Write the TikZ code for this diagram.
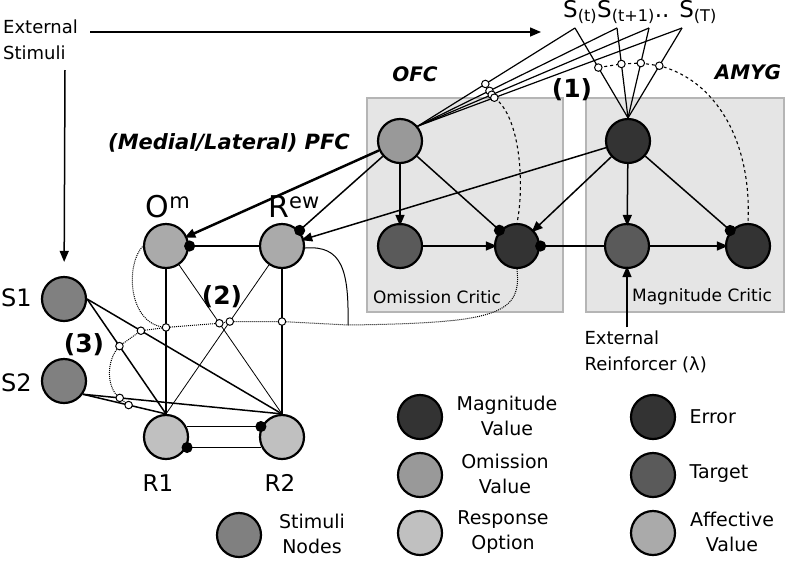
\documentclass[tikz,border=0pt]{standalone}
\usepackage{fontspec}
\setmainfont{DejaVu Sans}
\usetikzlibrary{arrows.meta,calc}
\definecolor{magval}{HTML}{333333}
\definecolor{tgt}{HTML}{5A5A5A}
\definecolor{omval}{HTML}{999999}
\definecolor{affval}{HTML}{AAAAAA}
\definecolor{resp}{HTML}{C0C0C0}
\definecolor{stim}{HTML}{808080}
\definecolor{boxfill}{HTML}{E5E5E5}
\definecolor{boxline}{HTML}{B5B5B5}
\newcommand{\fs}[2]{\fontsize{#1}{#2}\selectfont}
\begin{document}
\begin{tikzpicture}[x=1pt,y=-1pt,>={Triangle[length=11pt,width=9pt]},
  unit/.style={circle,draw,line width=2.2pt,minimum size=44pt,inner sep=0pt},
  syn/.style={circle,draw,fill=white,line width=1pt,minimum size=7.5pt,inner sep=0pt},
  lnk/.style={line width=1.5pt},
  exc/.style={->,lnk,shorten >=-3pt},
  inh/.style={-{Circle[length=11pt]},lnk,shorten >=-5pt},
  modln/.style={dashed,line width=1.1pt},
  dotln/.style={densely dotted,line width=1pt},
  lbl/.style={font=\fs{19}{25},align=center},
  tag/.style={font=\bfseries\itshape\fs{20}{24}},
  num/.style={font=\bfseries\fs{25}{28}}]
\useasboundingbox (0,0) rectangle (786,560);
% critic boxes
\draw[fill=boxfill,draw=boxline,line width=1.5pt] (367,98) rectangle (563,312);
\draw[fill=boxfill,draw=boxline,line width=1.5pt] (586,98) rectangle (784,312);
\node[font=\fs{17}{20}] (omcrit) at (437,297) {Omission Critic};
\node[font=\fs{17}{20}] (mgcrit) at (702,297) {Magnitude Critic};
\node[tag] (ofctxt) at (415,74) {OFC};
\node[tag] (amygtxt) at (748,72) {AMYG};
\node[tag,font=\bfseries\itshape\fs{21}{24}] (pfctxt) at (229,143) {(Medial/Lateral) PFC};
\node[num] (n1) at (572,90) {(1)};
\node[num] (n2) at (222,297) {(2)};
\node[num] (n3) at (84,345) {(3)};
% units
\node[unit,fill=omval] (ofc) at (400,141) {};
\node[unit,fill=magval] (amyg) at (628,141) {};
\node[unit,fill=tgt] (omt) at (400,246) {};
\node[unit,fill=magval] (ome) at (517,246) {};
\node[unit,fill=tgt] (mgt) at (627,246) {};
\node[unit,fill=magval] (mge) at (748,246) {};
\node[unit,fill=affval] (om) at (166,246) {};
\node[unit,fill=affval] (rew) at (282,246) {};
\node[unit,fill=stim] (s1) at (64,299) {};
\node[unit,fill=stim] (s2) at (64,381) {};
\node[unit,fill=resp] (r1) at (166,437) {};
\node[unit,fill=resp] (r2) at (282,437) {};
\node[font=\fs{30}{32}] (omlbl) at (168,207) {O\textsuperscript{m}};
\node[font=\fs{30}{32}] (rewlbl) at (294,207) {R\textsuperscript{ew}};
\node[font=\fs{24}{28},inner xsep=0pt,anchor=west] (s1lbl) at (1,298) {S1};
\node[font=\fs{24}{28},inner xsep=0pt,anchor=west] (s2lbl) at (1,383) {S2};
\node[font=\fs{23}{28}] (r1lbl) at (158,483) {R1};
\node[font=\fs{23}{28}] (r2lbl) at (280,483) {R2};
% inputs
\node[font=\fs{18}{26},align=left,inner xsep=0pt,anchor=west] (ext) at (3,40) {External\\Stimuli};
\coordinate (extR) at (90,32);
\coordinate (extE) at (541,32);
\coordinate (extD) at (65,70);
\draw[->,lnk] (extR) -- (extE);
\draw[->,lnk,shorten >=14pt] (extD) -- (s1);
\node[font=\fs{23}{26}] (seq) at (640,12) {S\textsubscript{(t)}S\textsubscript{(t+1)}.. S\textsubscript{(T)}};
\coordinate (p1) at (575,28);
\coordinate (p2) at (617,28);
\coordinate (p3) at (649,28);
\coordinate (p4) at (682,28);
\foreach \p/\a/\b in {1/0.57/0.44,2/0.64/0.40,3/0.68/0.39,4/0.71/0.42}{
  \draw[line width=1.2pt] (p\p) -- (ofc.40);
  \draw[line width=1.2pt] (p\p) -- (amyg.north);
  \coordinate (op\p) at ($(p\p)!\a!(ofc.40)$);
  \coordinate (ap\p) at ($(p\p)!\b!(amyg.north)$);
}
\node[font=\fs{18}{26},align=left,anchor=west] (rein) at (581,352) {External\\Reinforcer (λ)};
% critic connections
\draw[exc,line width=2.5pt] (ofc) -- (om);
\draw[inh] (ofc) -- (rew);
\draw[exc] (amyg) -- (rew);
\draw[exc] (ofc) -- (omt);
\draw[inh] (ofc) -- (ome);
\draw[exc] (amyg) -- (ome);
\draw[exc] (amyg) -- (mgt);
\draw[inh] (amyg) -- (mge);
\draw[exc] (omt) -- (ome);
\draw[exc] (mgt) -- (mge);
\draw[inh] (mgt) -- (ome);
\draw[exc] (rein.north -| mgt) -- (mgt);
\draw[modln] (op4) .. controls (522,118) and (524,190) .. (ome.north);
\draw[modln] (ap1) -- (ap2) -- (ap3) -- (ap4) .. controls (715,80) and (752,140) .. (mge.north);
% actor
\draw[inh] (rew) -- (om);
\draw[lnk] (om) -- (r1.north);
\draw[lnk] (rew) -- (r2.north);
\draw[line width=0.8pt] (om) -- (r2.north);
\draw[line width=0.8pt] (rew) -- (r1.north);
\draw[lnk] (s1.east) -- (r1.north);
\draw[lnk] (s1.east) -- (r2.north);
\draw[lnk] (s2.-35) -- (r1.north);
\draw[lnk] (s2.-35) -- (r2.north);
\draw[inh] (r1.27) -- (r2.153);
\draw[inh] (r2.207) -- (r1.-27);
\coordinate (sy1) at ($(om)!0.485!(r1.north)$);
\coordinate (sy2) at ($(om)!0.46!(r2.north)$);
\coordinate (sy3) at ($(rew)!0.45!(r1.north)$);
\coordinate (sy4) at ($(rew)!0.45!(r2.north)$);
\coordinate (ss1) at ($(s1.east)!0.276!(r2.north)$);
\coordinate (ss2) at ($(s1.east)!0.41!(r1.north)$);
\coordinate (ss3) at ($(s2.-35)!0.185!(r2.north)$);
\coordinate (ss4) at ($(s2.-35)!0.55!(r1.north)$);
\coordinate (rjoin) at (348,325);
\draw[line width=1pt] (rew.-5) .. controls (342,245) and (349,270) .. (rjoin);
\draw[dotln] (ome.south) .. controls (522,315) and (495,323) .. (rjoin) -- (sy4) -- (sy3) -- (sy2) -- (sy1) .. controls (128,325) and (125,265) .. (om.west);
\draw[dotln] (sy1) -- (ss1) -- (ss2) .. controls (106,360) and (106,388) .. (ss3) -- (ss4);
\foreach \c in {op1,op2,op3,op4,ap1,ap2,ap3,ap4,sy1,sy2,sy3,sy4,ss1,ss2,ss3,ss4}
  \node[syn] (syn-\c) at (\c) {};
% legend
\node[unit,fill=magval] (lgmv) at (420,417) {};
\node[lbl] (lgmvt) at (507,416) {Magnitude\\Value};
\node[unit,fill=omval] (lgov) at (420,475) {};
\node[lbl] (lgovt) at (505,474) {Omission\\Value};
\node[unit,fill=resp] (lgro) at (420,533) {};
\node[lbl] (lgrot) at (503,532) {Response\\Option};
\node[unit,fill=magval] (lger) at (653,417) {};
\node[lbl,anchor=west] (lgert) at (686,417) {Error};
\node[unit,fill=tgt] (lgtg) at (653,475) {};
\node[lbl,anchor=west] (lgtgt) at (686,474) {Target};
\node[unit,fill=affval] (lgav) at (653,533) {};
\node[lbl] (lgavt) at (732,532) {Affective\\Value};
\node[unit,fill=stim] (lgsn) at (239,535) {};
\node[lbl] (lgsnt) at (312,534) {Stimuli\\Nodes};
\end{tikzpicture}
\end{document}
